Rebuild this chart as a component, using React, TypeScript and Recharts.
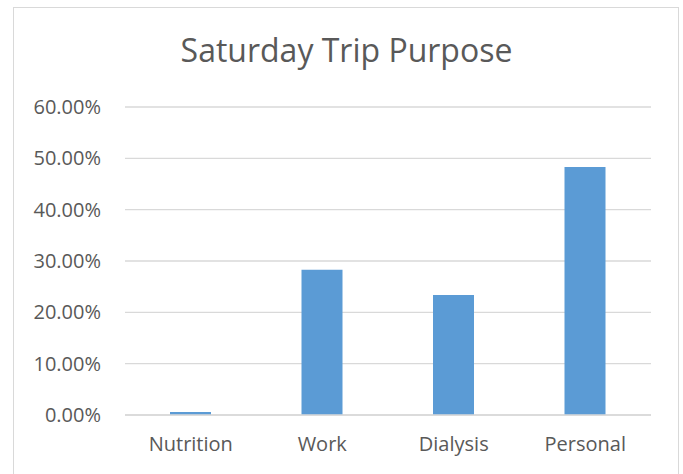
import React from "react";
import { BarChart, Bar, XAxis, YAxis, CartesianGrid } from "recharts";

const categories = ["Nutrition", "Work", "Dialysis", "Personal"];
const shares = [0.006, 0.283, 0.234, 0.483];
const yTicks = [0, 0.1, 0.2, 0.3, 0.4, 0.5, 0.6];

const data = categories.map((c, i) => ({ name: c, value: shares[i] }));

const FONT = "'Open Sans', 'Liberation Sans', sans-serif";
const TEXT = "#595959";

export default function App() {
  return (
    <div style={{ position: "absolute", left: 0, top: 0, width: 683, height: 474, background: "#fff", overflow: "hidden" }}>
      <div
        style={{
          position: "absolute",
          left: 13,
          top: 7,
          width: 666,
          height: 480,
          border: "1px solid #d9d9d9",
          boxSizing: "border-box",
        }}
      />
      <div
        style={{
          position: "absolute",
          left: 13,
          width: 667,
          top: 28,
          textAlign: "center",
          fontFamily: FONT,
          fontSize: 32,
          color: TEXT,
          lineHeight: "44px",
        }}
      >
        Saturday Trip Purpose
      </div>
      <div style={{ position: "absolute", left: 0, top: 0 }}>
        <BarChart width={683} height={474} data={data} margin={{ top: 107, right: 32, bottom: 0, left: 0 }}>
          <CartesianGrid vertical={false} stroke="#d9d9d9" strokeWidth={1.4} />
          <XAxis
            dataKey="name"
            height={59}
            axisLine={{ stroke: "#d9d9d9", strokeWidth: 1.4 }}
            tickLine={false}
            tickSize={0}
            tickMargin={22}
            tick={{ fill: TEXT, fontSize: 20, fontFamily: FONT }}
            interval={0}
          />
          <YAxis
            width={125}
            domain={[0, 0.6]}
            ticks={yTicks}
            axisLine={false}
            tickLine={false}
            tickSize={0}
            tickMargin={24}
            tickFormatter={(v: number) => (v * 100).toFixed(2) + "%"}
            tick={{ fill: TEXT, fontSize: 20, fontFamily: FONT }}
          />
          <Bar dataKey="value" fill="#5B9BD5" barSize={41} isAnimationActive={false} />
        </BarChart>
      </div>
    </div>
  );
}
